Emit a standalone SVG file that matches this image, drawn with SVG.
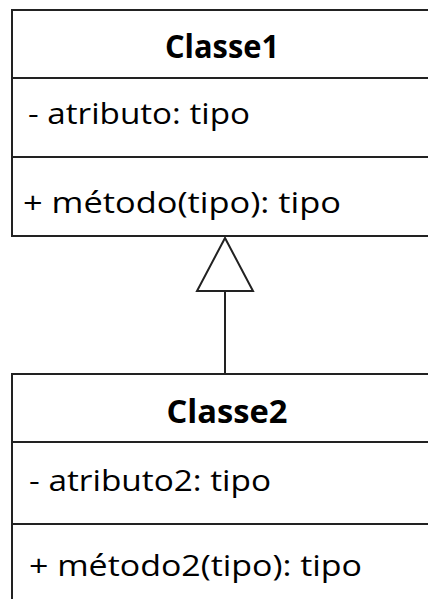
<svg xmlns="http://www.w3.org/2000/svg" width="428" height="599" viewBox="0 0 428 599">
<style>
.box{fill:#fff;stroke:#222;stroke-width:2}
.line{stroke:#222;stroke-width:2;fill:none}
.title{font-family:"Open Sans","Liberation Sans",sans-serif;font-weight:bold;font-size:32px;fill:#000;text-anchor:middle}
.item{font-family:"Open Sans","Liberation Sans",sans-serif;font-size:30px;fill:#000}
</style>
<g id="connectors">
<line class="line" x1="225" y1="291" x2="225" y2="374"/>
<polygon class="line" points="225,238 197,291 253,291" fill="#fff"/>
</g>
<g id="Classe1">
<rect class="box" x="12" y="10" width="430" height="226"/>
<line class="line" x1="12" y1="78" x2="430" y2="78"/>
<line class="line" x1="12" y1="157" x2="430" y2="157"/>
<text class="title" x="222" y="58" textLength="114" lengthAdjust="spacingAndGlyphs">Classe1</text>
<text class="item" x="28" y="124" textLength="222" lengthAdjust="spacingAndGlyphs">- atributo: tipo</text>
<text class="item" x="23" y="213" textLength="318" lengthAdjust="spacingAndGlyphs">+ método(tipo): tipo</text>
</g>
<g id="Classe2">
<rect class="box" x="12" y="374" width="430" height="240"/>
<line class="line" x1="12" y1="442" x2="430" y2="442"/>
<line class="line" x1="12" y1="524" x2="430" y2="524"/>
<text class="title" x="227" y="423" textLength="121" lengthAdjust="spacingAndGlyphs">Classe2</text>
<text class="item" x="29" y="491" textLength="242" lengthAdjust="spacingAndGlyphs">- atributo2: tipo</text>
<text class="item" x="29" y="576" textLength="333" lengthAdjust="spacingAndGlyphs">+ método2(tipo): tipo</text>
</g>
</svg>
